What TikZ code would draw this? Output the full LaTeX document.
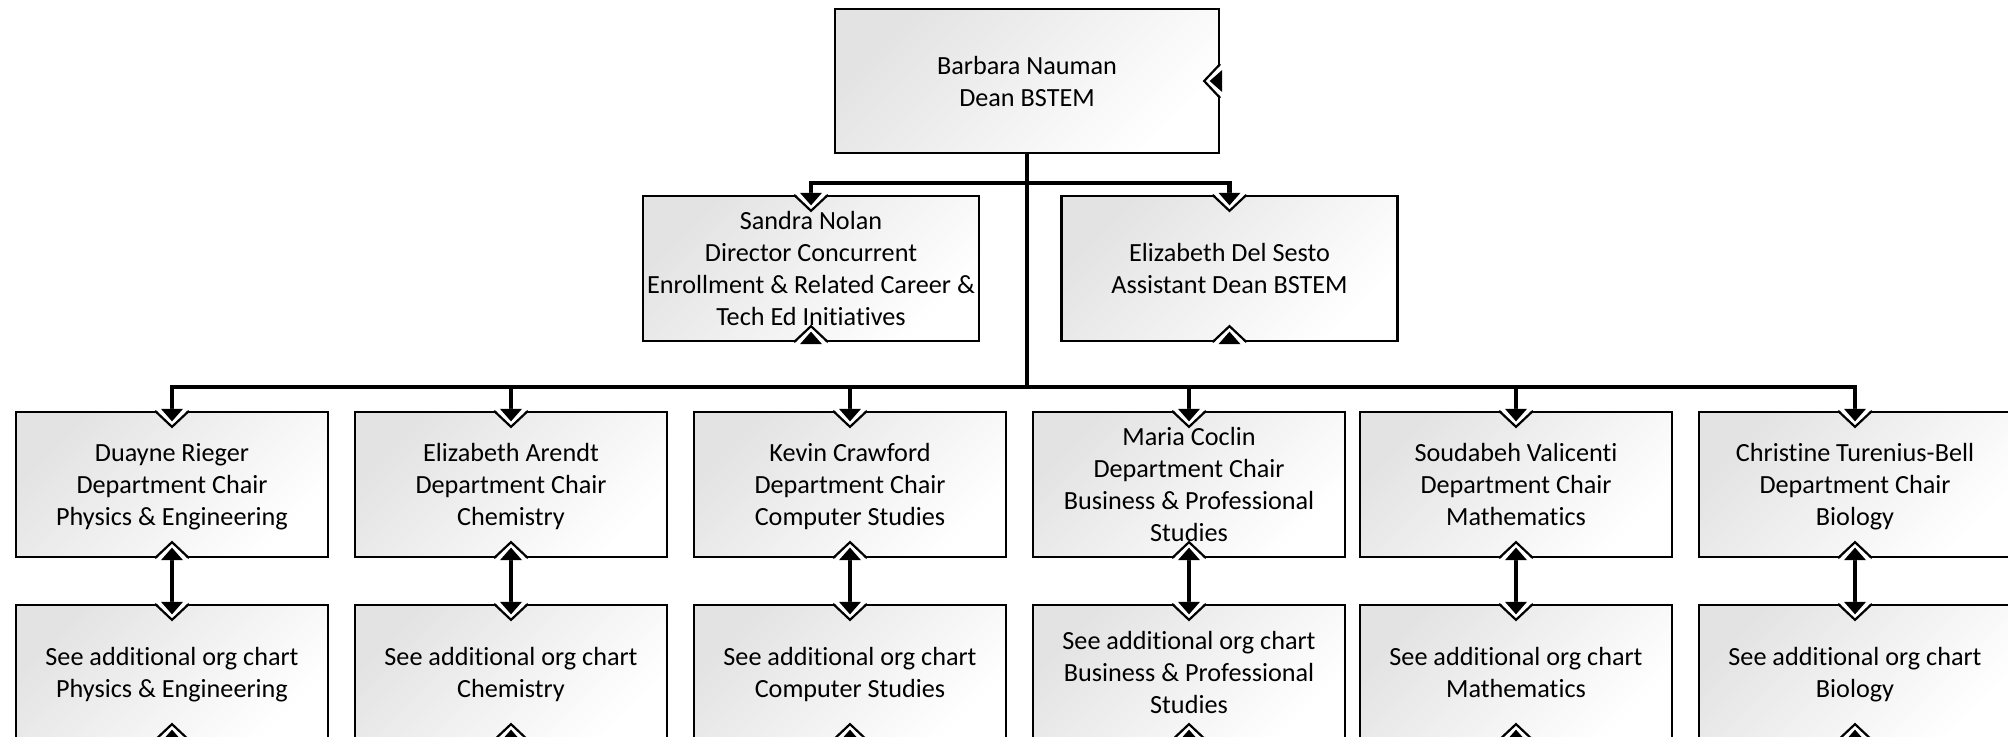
\documentclass[tikz,border=0pt]{standalone}
\usepackage{fontspec}
\setmainfont{Carlito}[Ligatures=NoCommon]
\begin{document}
\begin{tikzpicture}[x=0.5pt,y=-0.5pt,
  box/.style={draw=black, line width=1.15pt, rectangle, inner sep=0pt,
    top color=black!11, bottom color=white, shading angle=45,
    align=center, font=\fontsize{13.1pt}{16pt}\selectfont,
    text depth=-0.3pt},
  deanbox/.style={box, minimum width=192pt, minimum height=72pt},
  staffbox/.style={box, minimum width=168pt, minimum height=72.5pt},
  chairbox/.style={box, minimum width=156pt, minimum height=72.5pt},
  chartbox/.style={box, minimum width=156pt, minimum height=67pt},
  conn/.style={draw=black, line width=2.25pt},
  mark/.pic={
    \fill[white] (-17,-2) -- (0,16) -- (17,-2) -- cycle;
    \draw[black, line width=1.1pt] (-17,0) -- (0,16) -- (17,0);
    \fill[black] (-11,-2) -- (0,10.5) -- (11,-2) -- cycle;
  }]
\useasboundingbox (0,0) rectangle (2008,737);

% boxes
\node[deanbox]  (dean)     at (1027,81)    {Barbara Nauman\\Dean BSTEM};
\node[staffbox] (sandra)   at (811,268.5)  {Sandra Nolan\\Director Concurrent\\Enrollment \& Related Career \&\\Tech Ed Initiatives};
\node[staffbox] (delsesto) at (1229.5,268.5) {Elizabeth Del Sesto\\Assistant Dean BSTEM};

\node[chairbox] (d1) at (172,484.5)  {Duayne Rieger\\Department Chair\\Physics \& Engineering};
\node[chairbox] (d2) at (511,484.5)  {Elizabeth Arendt\\Department Chair\\Chemistry};
\node[chairbox] (d3) at (850,484.5)  {Kevin Crawford\\Department Chair\\Computer Studies};
\node[chairbox] (d4) at (1189,484.5) {Maria Coclin\\Department Chair\\Business \& Professional\\Studies};
\node[chairbox] (d5) at (1516,484.5) {Soudabeh Valicenti\\Department Chair\\Mathematics};
\node[chairbox] (d6) at (1855,484.5) {Christine Turenius-Bell\\Department Chair\\Biology};

\node[chartbox] (s1) at (172,672)  {See additional org chart\\Physics \& Engineering};
\node[chartbox] (s2) at (511,672)  {See additional org chart\\Chemistry};
\node[chartbox] (s3) at (850,672)  {See additional org chart\\Computer Studies};
\node[chartbox] (s4) at (1189,672) {See additional org chart\\Business \& Professional\\Studies};
\node[chartbox] (s5) at (1516,672) {See additional org chart\\Mathematics};
\node[chartbox] (s6) at (1855,672) {See additional org chart\\Biology};

% connectors
\coordinate (busA) at (1027,183);
\coordinate (busB) at (1027,387);
\draw[conn] (dean.south) -- (busB);
\draw[conn] (sandra.north) |- (busA) -| (delsesto.north);
\draw[conn] (d1.north) |- (busB) -| (d6.north);
\foreach \i in {2,3,4,5} {
  \draw[conn] (busB) -| (d\i.north);
}
\foreach \i in {1,...,6} {
  \draw[conn] (d\i.south) -- (s\i.north);
}

% connection markers on the box edges
\path (dean.east) pic[rotate=-90] {mark};
\foreach \n in {sandra,delsesto,d1,d2,d3,d4,d5,d6,s1,s2,s3,s4,s5,s6} {
  \path (\n.north) pic {mark};
  \path (\n.south) pic[rotate=180] {mark};
}
\end{tikzpicture}
\end{document}
